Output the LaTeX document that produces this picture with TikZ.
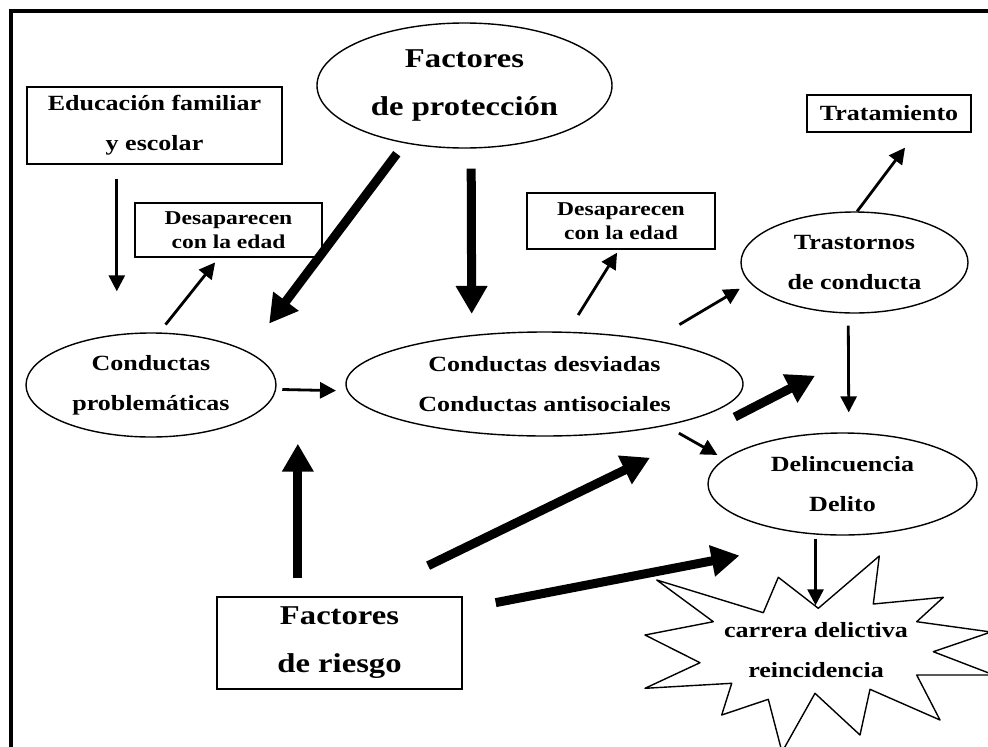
\documentclass[tikz,border=0pt]{standalone}
\usepackage{fontspec}
\setmainfont{Liberation Serif}[FakeStretch=1.2]
\usepackage{tikz}
\usetikzlibrary{calc,arrows.meta,shapes.geometric}
\newcommand{\figtext}{\fontsize{21.7}{40}\selectfont\bfseries}
\newcommand{\figsmall}{\fontsize{19.6}{24}\selectfont\bfseries}
\newcommand{\figbig}{\fontsize{27.2}{48}\selectfont\bfseries}
\tikzset{
	box/.style = {draw, line width=1.4pt, inner sep=0pt, align=center, font=\figtext},
	oval/.style = {ellipse, draw, line width=1.4pt, inner sep=0pt, align=center, font=\figtext},
	thinarrow/.style = {line width=2.8pt, -{Triangle[length=16pt,width=16pt]}},
	bigarrow/.style = {line width=9pt, -{Triangle[length=28pt,width=30pt]}},
}

\begin{document}
\begin{tikzpicture}[x=1pt,y=-1pt]
	\useasboundingbox (0,0) rectangle (988,747);
	\clip (0,0) rectangle (988,747);
	\draw[line width=4pt] (10.5,760) -- (10.5,11) -- (1000,11);

	\node[box, minimum width=255pt, minimum height=77pt] (edu) at (154.5,125.5) {Educación familiar\\y escolar};
	\node[oval, minimum width=295pt, minimum height=125pt, font=\figbig] (fprot) at (464.5,85.5) {Factores\\de protección};
	\node[box, minimum width=187pt, minimum height=54pt, font=\figsmall] (desL) at (228.5,230) {Desaparecen\\con la edad};
	\node[box, minimum width=188pt, minimum height=56pt, font=\figsmall] (desR) at (621,221) {Desaparecen\\con la edad};
	\node[box, minimum width=164pt, minimum height=37pt] (trat) at (889,113.5) {Tratamiento};
	\node[oval, minimum width=227pt, minimum height=101pt] (trast) at (854.5,262.5) {Trastornos\\de conducta};
	\node[oval, minimum width=250pt, minimum height=104pt] (cprob) at (151,385) {Conductas\\problemáticas};
	\node[oval, minimum width=397pt, minimum height=104pt] (cdesv) at (544.5,384) {Conductas desviadas\\Conductas antisociales};
	\node[oval, minimum width=269pt, minimum height=102pt] (delin) at (842.5,484) {Delincuencia\\Delito};
	\node[box, minimum width=245pt, minimum height=92pt, font=\figbig] (friesgo) at (339.5,643) {Factores\\de riesgo};

	\draw[line width=1.4pt, line join=round] (656.7,580) -- (763.3,612.7) -- (778.3,577.3) -- (818.3,608.3) coordinate (starin)
		-- (879.3,556) -- (873.3,604) -- (943.3,597.3) -- (916.7,621.7) -- (991,632) -- (933.3,651.7) -- (994,675)
		-- (916.7,675) -- (940,720) -- (870,689.3) -- (860,735) -- (815,693.3) -- (782,752) -- (768.3,699.3)
		-- (721.7,715) -- (731.7,683.3) -- (645,688.3) -- (700,662.7) -- (645,635) -- (713.3,621.7) -- cycle;
	\node[align=center, font=\figtext, inner sep=0pt] (carrera) at (816,650) {carrera delictiva\\reincidencia};

	\draw[thinarrow, shorten <=14pt, shorten >=41pt] ($(edu.south west)!.353!(edu.south east)$) coordinate (edu1) -- (edu1 |- cprob.north);
	\draw[thinarrow, shorten <=10pt, shorten >=6pt] (cprob.81.5) -- ($(desL.south west)!.449!(desL.south east)$);
	\draw[bigarrow, shorten <=13pt, shorten >=35pt] (fprot.-136.2) -- (cprob.19.8);
	\draw[bigarrow, shorten <=20pt, shorten >=21pt] (fprot.-84.05) -- (cdesv.146.7);
	\draw[thinarrow, shorten <=6pt, shorten >=11pt] (cprob.-2.8) -- (cdesv.-178);
	\draw[thinarrow, shorten <=19.6pt, shorten >=3.5pt] (cdesv.66.7) -- ($(desR.south west)!.489!(desR.south east)$);
	\draw[thinarrow, shorten <=30pt, shorten >=11.5pt] (cdesv.22.6) -- (trast.-169.3);
	\draw[thinarrow, shorten >=18.7pt] (trast.87.2) -- ($(trat.south west)!.665!(trat.south east)$);
	\draw[thinarrow, shorten <=12pt, shorten >=20pt] (trast.-97.35) -- (delin.83.84);
	\draw[bigarrow] ([shift={(-9,33)}]cdesv.east) -- ([shift={(-39.5,62)}]trast.south);
	\draw[thinarrow, shorten <=15pt, shorten >=8pt] (cdesv.-19.15) -- (delin.168.56);
	\draw[bigarrow, shorten <=70pt] ($(friesgo.north west)!.604!(friesgo.north east)$) -- ([shift={(105.5,21)}]cdesv.south);
	\draw[bigarrow, shorten <=33.6pt] ($(friesgo.north east)!.136!(friesgo.south east)$) -- ([shift={(-7.4,35)}]delin.south west);
	\draw[bigarrow, shorten <=18pt, shorten >=6pt] ($(friesgo.north west)!.331!(friesgo.north east)$) coordinate (fr1) -- (fr1 |- cprob.south);
	\draw[thinarrow, shorten <=4pt, shorten >=3pt] (delin.-118.9) coordinate (del1) -- (del1 |- starin);
\end{tikzpicture}
\end{document}
